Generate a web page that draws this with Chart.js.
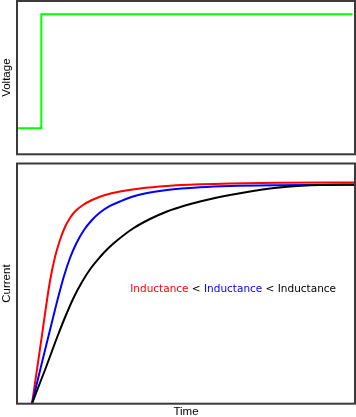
<!DOCTYPE html>
<html>
<head>
<meta charset="utf-8">
<script src="https://cdn.jsdelivr.net/npm/chart.js@4/dist/chart.umd.min.js"></script>
<style>
  html, body { margin: 0; padding: 0; background: #fff; width: 356px; height: 417px; overflow: hidden; }
  canvas { position: absolute; left: 0; }
  #top { top: 0; }
  #bottom { top: 160px; }
</style>
</head>
<body>
<canvas id="top" width="356" height="157"></canvas>
<canvas id="bottom" width="356" height="257"></canvas>
<script>
// ---- data (time in % of window, values in % of full scale) ----
const voltageTime  = [0, 7.2, 7.2, 99.3];
const voltageValue = [17.0, 17.0, 91.3, 91.3];

const redTime    = [4.44, 7.10, 9.76, 11.24, 12.72, 14.20, 15.68, 17.16, 19.53, 22.19, 26.04, 30.47, 36.39, 44.38, 54.14, 63.02, 77.81, 100];
const redCurrent = [0, 25.69, 51.08, 61.07, 68.15, 73.56, 77.31, 80.02, 82.72, 84.80, 86.89, 88.34, 89.59, 90.63, 91.34, 91.72, 91.97, 92.09];

const blueTime    = [4.44, 7.10, 9.76, 12.13, 13.91, 15.68, 17.46, 19.82, 22.19, 24.56, 27.51, 30.47, 34.32, 39.35, 44.38, 54.14, 63.02, 77.81, 100];
const blueCurrent = [0, 15.49, 30.68, 44.00, 53.16, 60.66, 66.49, 72.31, 76.48, 79.60, 82.31, 84.18, 86.26, 87.93, 88.97, 90.09, 90.63, 90.97, 91.17];

const blackTime    = [4.44, 6.21, 8.28, 10.36, 12.13, 14.50, 16.86, 19.23, 21.89, 24.56, 26.92, 29.59, 34.32, 39.35, 44.38, 49.70, 54.14, 58.58, 63.02, 69.82, 74.85, 79.88, 89.64, 100];
const blackCurrent = [0, 6.54, 14.03, 21.94, 28.60, 36.93, 44.42, 50.67, 56.49, 61.07, 64.61, 67.94, 72.94, 76.89, 80.02, 82.51, 84.18, 85.64, 86.89, 88.55, 89.59, 90.34, 91.01, 91.17];

const labelParts  = ['Inductance', ' < ', 'Inductance', ' < ', 'Inductance'];
const labelColors = ['#ff0000', '#000000', '#0000ff', '#000000', '#000000'];
const labelAnchor = { time: 33.5, current: 47.5 };

const toPoints = (xs, ys) => xs.map((x, i) => ({ x: x, y: ys[i] }));

const boxPlugin = {
  id: 'box',
  afterDraw(chart) {
    const a = chart.chartArea, ctx = chart.ctx;
    ctx.save();
    ctx.strokeStyle = '#3a3a3a';
    ctx.lineWidth = 2;
    ctx.strokeRect(a.left, a.top, a.right - a.left, a.bottom - a.top);
    ctx.restore();
  }
};

const labelPlugin = {
  id: 'inductanceLabel',
  afterDatasetsDraw(chart) {
    const ctx = chart.ctx;
    const x0 = chart.scales.x.getPixelForValue(labelAnchor.time);
    const y0 = chart.scales.y.getPixelForValue(labelAnchor.current);
    ctx.save();
    ctx.font = '10.5px "DejaVu Sans"';
    ctx.textBaseline = 'middle';
    ctx.textAlign = 'left';
    let x = x0;
    labelParts.forEach((t, i) => {
      ctx.fillStyle = labelColors[i];
      ctx.fillText(t, x, y0);
      x += ctx.measureText(t).width;
    });
    ctx.restore();
  }
};

const titleFont = { family: '"Liberation Sans", Arial, sans-serif', size: 11.5 };

function yAxis(title) {
  return {
    type: 'linear', min: 0, max: 100,
    ticks: { display: false }, grid: { display: false }, border: { display: false },
    title: { display: true, text: title, color: '#000', font: titleFont, padding: { top: 0, bottom: 0 } },
    afterFit(s) { s.width = 17; }
  };
}

new Chart(document.getElementById('top'), {
  type: 'line',
  data: {
    datasets: [{
      data: toPoints(voltageTime, voltageValue),
      borderColor: '#00ff00', borderWidth: 2, pointRadius: 0, tension: 0, fill: false
    }]
  },
  options: {
    responsive: false, animation: false,
    layout: { padding: { left: 0, right: 1, top: 1, bottom: 2.7 } },
    plugins: { legend: { display: false }, tooltip: { enabled: false } },
    scales: {
      x: { type: 'linear', min: 0, max: 100, display: false },
      y: yAxis('Voltage')
    }
  },
  plugins: [boxPlugin]
});

const curve = (xs, ys, color) => ({
  data: toPoints(xs, ys),
  borderColor: color, borderWidth: 2, pointRadius: 0,
  cubicInterpolationMode: 'monotone', fill: false
});

new Chart(document.getElementById('bottom'), {
  type: 'line',
  data: {
    datasets: [
      curve(blackTime, blackCurrent, '#000000'),
      curve(blueTime, blueCurrent, '#0000ff'),
      curve(redTime, redCurrent, '#ff0000')
    ]
  },
  options: {
    responsive: false, animation: false,
    layout: { padding: { left: 0, right: 1, top: 3.5, bottom: 0 } },
    plugins: { legend: { display: false }, tooltip: { enabled: false } },
    scales: {
      x: {
        type: 'linear', min: 0, max: 100,
        ticks: { display: false }, grid: { display: false }, border: { display: false },
        title: { display: true, text: 'Time', color: '#000', font: titleFont, padding: { top: 0, bottom: -2 } },
        afterFit(s) { s.height = 13.3; }
      },
      y: yAxis('Current')
    }
  },
  plugins: [labelPlugin, boxPlugin]
});
</script>
</body>
</html>
